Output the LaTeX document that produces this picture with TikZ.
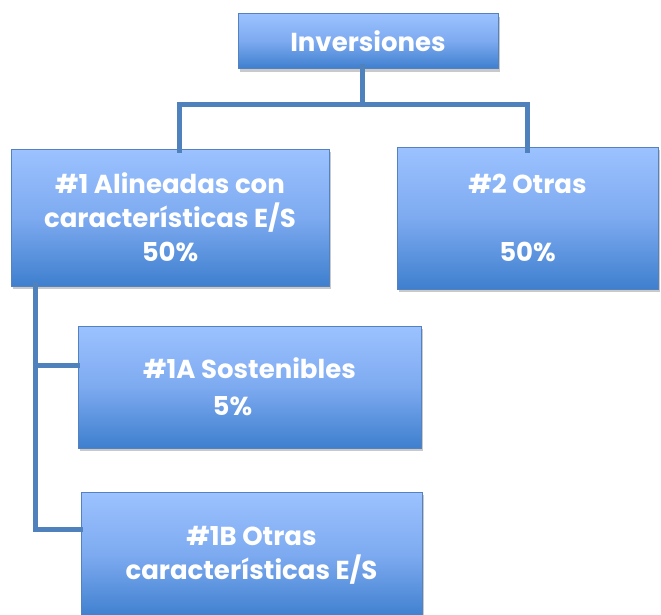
\documentclass[tikz,border=0pt]{standalone}
\usepackage{fontspec}
\setmainfont{Poppins}
\usetikzlibrary{shadows,calc}
\definecolor{boxtop}{RGB}{156,194,255}
\definecolor{boxmid}{RGB}{125,170,240}
\definecolor{boxbot}{RGB}{62,127,206}
\definecolor{boxline}{RGB}{84,130,190}
\definecolor{connc}{RGB}{79,129,189}
\tikzset{
  orgbox/.style={rectangle, draw=boxline, line width=1pt,
    top color=boxtop, bottom color=boxbot, middle color=boxmid,
    text=white, font=\fontsize{26}{34}\selectfont\bfseries, align=center,
    inner sep=0pt,
    drop shadow={shadow xshift=2pt, shadow yshift=-3pt, opacity=0.35, fill=black!60}},
  conn/.style={draw=connc, line width=5pt, line cap=rect}
}
\begin{document}
\begin{tikzpicture}[x=1pt,y=-1pt]
\useasboundingbox (0,0) rectangle (661,614);
\fill[white] (0,0) rectangle (661,614);
\coordinate (t) at (362,104);
\coordinate (c1) at (179,150);
\coordinate (c2) at (527,150);
\coordinate (ti) at (362,66);
\coordinate (l1) at (35,284);
\coordinate (l2) at (35,529);
\coordinate (l3) at (35,365);
\node[orgbox, minimum width=260pt, minimum height=55pt] (inv) at (368,41) {Inversiones};
\node[orgbox, minimum width=318pt, minimum height=137pt] (b1) at (170,217.5)
  {\#1 Alineadas con\\características E/S\\50\%};
\node[orgbox, minimum width=261pt, minimum height=142pt] (b2) at (527.5,218)
  {\#2 Otras\\[34pt]50\%};
\node[orgbox, minimum width=343pt, minimum height=122pt] (b1a) at (249.5,387)
  {\#1A Sostenibles\\[3pt]\mbox{5\%\hspace{34pt}}};
\node[orgbox, minimum width=341pt, minimum height=126pt] (b1b) at (251.5,555)
  {\#1B Otras\\características E/S};
\draw[conn] (ti) -- (t);
\draw[conn] (c1) |- (t) -| (c2);
\draw[conn] (l1) -- (l2) -- (l2 -| b1b.west);
\draw[conn] (l3) -- (l3 -| b1a.west);
\end{tikzpicture}
\end{document}
